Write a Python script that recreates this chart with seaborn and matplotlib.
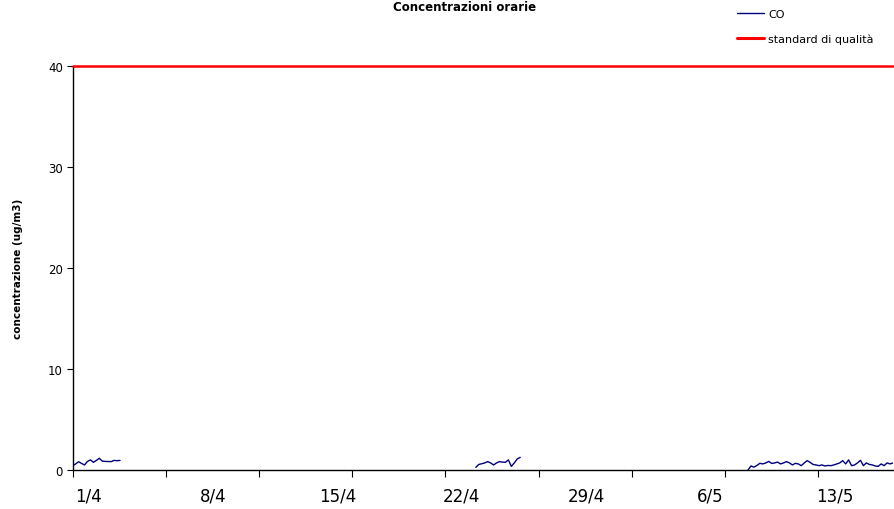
import numpy as np
import pandas as pd
import matplotlib
matplotlib.use("Agg")
import matplotlib.pyplot as plt
import seaborn as sns

# ---------------- data ----------------
# hourly CO concentrations (hours counted from 1/4 00:00), three measured stretches
seg1_start, seg1_step = 0, 4
seg1_values = [0.43, 0.60, 0.82, 0.65, 0.50, 0.85, 1.00, 0.76, 0.95, 1.16, 0.88,
               0.85, 0.84, 0.83, 0.95, 0.92, 0.95]
seg2_start, seg2_step = 545, 4
seg2_values = [0.26, 0.55, 0.62, 0.70, 0.83, 0.70, 0.50, 0.70, 0.83, 0.78, 0.76,
               1.00, 0.36, 0.70, 1.10, 1.25]
seg3_start, seg3_step = 913, 4
seg3_values = [0.00, 0.40, 0.28, 0.45, 0.66, 0.60, 0.70, 0.85, 0.65, 0.70, 0.78,
               0.60, 0.70, 0.83, 0.70, 0.50, 0.66, 0.60, 0.43, 0.70, 0.93, 0.75,
               0.55, 0.50, 0.43, 0.50, 0.40, 0.45, 0.43, 0.50, 0.60, 0.70, 0.93,
               0.60, 1.00, 0.43, 0.50, 0.70, 0.96, 0.43, 0.70, 0.55, 0.50, 0.40,
               0.36, 0.60, 0.43, 0.70, 0.60, 0.70]
standard_value = 40

x_end = 1109
tick_labels = ["1/4", "8/4", "15/4", "22/4", "29/4", "6/5", "13/5"]
label_hours = [22, 190, 358, 526, 694, 862, 1030]
mark_hours = [0, 126, 252, 378, 504, 630, 756, 882, 1008]
y_ticks = [0, 10, 20, 30, 40]

frames = []
for i, (s, st, vals) in enumerate([(seg1_start, seg1_step, seg1_values),
                                   (seg2_start, seg2_step, seg2_values),
                                   (seg3_start, seg3_step, seg3_values)]):
    frames.append(pd.DataFrame({"ora": s + st * np.arange(len(vals)),
                                "CO": vals, "segmento": i}))
df = pd.concat(frames, ignore_index=True)

# ---------------- plot ----------------
sns.set_style("white")
plt.rcParams["font.family"] = ["DejaVu Sans"]
plt.rcParams["text.color"] = "black"
plt.rcParams["xtick.color"] = "black"
plt.rcParams["ytick.color"] = "black"
plt.rcParams["axes.labelcolor"] = "black"

fig = plt.figure(figsize=(8.94, 5.10), dpi=100)
ax = fig.add_axes([72.7 / 894, 1 - 471 / 510, (893 - 72.7) / 894, (471 - 67) / 510])

for i, (seg, d) in enumerate(df.groupby("segmento")):
    sns.lineplot(data=d, x="ora", y="CO", ax=ax, color="#000080", linewidth=1.0,
                 legend=False)
ax.axhline(standard_value, color="#ff0000", linewidth=1.8, clip_on=False, zorder=3)

ax.set_xlim(0, x_end)
ax.set_ylim(0, 40)

ax.set_xticks(label_hours)
ax.set_xticklabels(tick_labels, fontsize=12)
ax.set_xticks(mark_hours, minor=True)
ax.tick_params(axis="x", which="major", length=0, pad=12)
ax.tick_params(axis="x", which="minor", length=5, width=0.8, color="black",
               direction="out", bottom=True)
ax.set_yticks(y_ticks)
ax.tick_params(axis="y", which="major", length=4, width=0.8, color="black",
               direction="out", left=True, labelsize=8.5, pad=3)

for side in ["top", "right"]:
    ax.spines[side].set_visible(False)
for side in ["left", "bottom"]:
    ax.spines[side].set_color("black")
    ax.spines[side].set_linewidth(1.0)

ax.set_xlabel("")
ax.set_ylabel("concentrazione (ug/m3)", fontsize=7.5, fontweight="bold", labelpad=18)

fig.text(0.52, 1 - 11 / 510, "Concentrazioni orarie", ha="center", va="baseline",
         fontsize=8.5, fontweight="bold")

handles = [plt.Line2D([], [], color="#000080", linewidth=1.0),
           plt.Line2D([], [], color="#ff0000", linewidth=2.2)]
fig.legend(handles, ["CO", "standard di qualità"], loc="center left",
           bbox_to_anchor=(737 / 894, 1 - 27.5 / 510), frameon=False, fontsize=8,
           handlelength=2.4, handletextpad=0.4, labelspacing=1.35, borderpad=0,
           borderaxespad=0)

fig.savefig("out.png", dpi=100)
